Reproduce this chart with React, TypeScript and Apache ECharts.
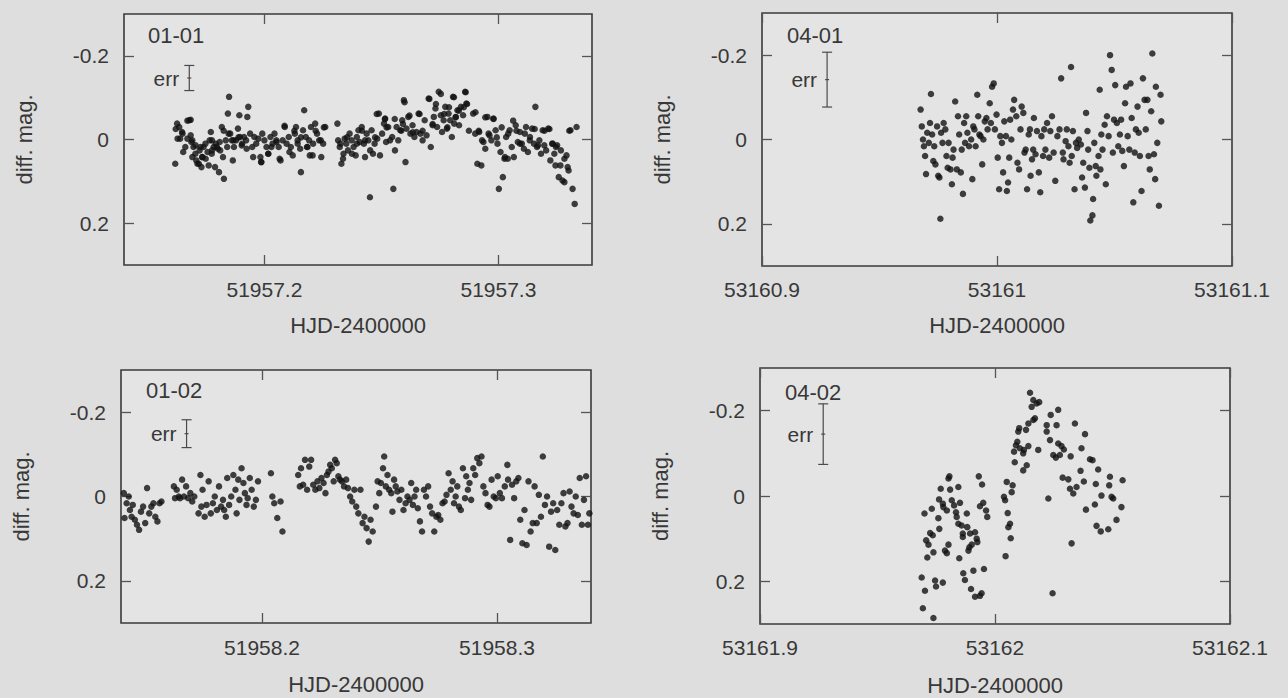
import React, { useEffect, useRef } from "react";
import * as echarts from "echarts";

const FONT = '"Liberation Sans", Arial, Helvetica, sans-serif';
const TEXT = "#383838";

// Epochs (HJD-2400000) — x values below are days relative to these
const BASE_0101 = 51957;
const BASE_0102 = 51958;
const BASE_0401 = 53161;
const BASE_0402 = 53162;

const X_TICKS_0101 = [0.2, 0.3];
const X_TICKS_0102 = [0.2, 0.3];
const X_TICKS_0401 = [-0.1, 0, 0.1];
const X_TICKS_0402 = [-0.1, 0, 0.1];
const Y_TICKS = [-0.2, 0, 0.2];

// error bar: [x, centre mag, half-length]
const ERR_0101 = [0.1679, -0.147, 0.03];
const ERR_0102 = [0.1679, -0.149, 0.033];
const ERR_0401 = [-0.0723, -0.142, 0.065];
const ERR_0402 = [-0.0731, -0.145, 0.071];

const LC_0101: number[][] = [
  [0.1619,0.058],[0.1627,-0.038],[0.1636,-0.030],[0.1640,-0.002],[0.1648,-0.018],[0.1653,0.030],[0.1662,0.018],[0.1671,-0.002],[0.1679,-0.046],[0.1685,-0.010],
  [0.1688,0.006],[0.1692,0.042],[0.1697,0.018],[0.1705,0.034],[0.1709,0.050],[0.1714,0.058],[0.1723,0.026],[0.1731,0.066],[0.1735,0.042],[0.1740,0.018],
  [0.1749,0.046],[0.1757,0.030],[0.1766,0.002],[0.1771,-0.018],[0.1775,0.034],[0.1783,0.018],[0.1789,0.066],[0.1792,0.010],[0.1801,0.022],[0.1806,0.078],
  [0.1809,0.006],[0.1818,-0.030],[0.1823,0.042],[0.1827,0.094],[0.1835,0.002],[0.1841,0.018],[0.1844,-0.062],[0.1849,-0.102],[0.1854,-0.014],[0.1861,0.002],
  [0.1865,0.050],[0.1870,0.018],[0.1879,0.002],[0.1887,-0.026],[0.1893,-0.058],[0.1896,-0.006],[0.1905,0.010],[0.1913,-0.006],[0.1922,0.002],[0.1927,-0.054],
  [0.1931,-0.078],[0.1939,-0.014],[0.1948,0.018],[0.1957,-0.006],[0.1965,0.010],[0.1974,-0.002],[0.1983,0.042],[0.1986,0.054],[0.1991,-0.014],[0.2000,0.002],
  [0.2009,0.018],[0.2017,0.034],[0.2026,-0.006],[0.2035,0.010],[0.2043,-0.014],[0.2052,0.006],[0.2061,0.018],[0.2069,0.050],[0.2078,0.002],[0.2087,-0.030],
  [0.2095,0.010],[0.2104,-0.006],[0.2113,0.018],[0.2121,0.038],[0.2130,-0.014],[0.2135,-0.030],[0.2142,0.002],[0.2153,0.022],[0.2156,0.078],[0.2165,-0.022],
  [0.2170,-0.070],[0.2177,-0.006],[0.2182,0.018],[0.2191,0.002],[0.2194,0.038],[0.2199,-0.030],[0.2208,0.010],[0.2217,-0.038],[0.2225,-0.014],[0.2234,0.002],
  [0.2243,0.042],[0.2251,0.010],[0.2260,-0.030],[0.2312,-0.038],[0.2315,0.002],[0.2322,0.018],[0.2329,0.058],[0.2338,0.034],[0.2343,-0.002],[0.2350,0.010],
  [0.2357,0.026],[0.2364,-0.014],[0.2373,0.002],[0.2381,0.018],[0.2390,0.038],[0.2395,-0.006],[0.2402,-0.022],[0.2407,0.006],[0.2416,-0.030],[0.2425,0.010],
  [0.2430,0.042],[0.2437,-0.014],[0.2444,0.002],[0.2451,0.138],[0.2458,-0.022],[0.2464,0.034],[0.2471,0.010],[0.2482,-0.002],[0.2489,-0.062],[0.2494,0.038],
  [0.2503,-0.014],[0.2511,-0.038],[0.2516,-0.050],[0.2520,0.006],[0.2529,-0.030],[0.2537,0.002],[0.2546,-0.006],[0.2551,0.118],[0.2558,0.026],[0.2565,-0.030],
  [0.2572,0.002],[0.2581,-0.022],[0.2589,-0.046],[0.2596,-0.094],[0.2603,0.054],[0.2607,-0.026],[0.2615,-0.054],[0.2624,-0.014],[0.2633,-0.034],[0.2641,-0.006],
  [0.2650,-0.018],[0.2659,-0.062],[0.2667,-0.014],[0.2676,0.002],[0.2685,-0.046],[0.2693,-0.010],[0.2702,-0.098],[0.2711,0.018],[0.2719,-0.034],[0.2724,-0.054],
  [0.2731,-0.074],[0.2738,-0.030],[0.2745,-0.114],[0.2754,-0.058],[0.2759,-0.018],[0.2766,-0.046],[0.2773,-0.078],[0.2780,-0.026],[0.2787,-0.062],[0.2794,-0.046],
  [0.2801,-0.006],[0.2806,-0.102],[0.2811,-0.038],[0.2818,-0.054],[0.2825,-0.070],[0.2832,-0.034],[0.2840,-0.078],[0.2849,-0.058],[0.2858,-0.114],[0.2863,-0.086],
  [0.2892,-0.062],[0.2901,-0.014],[0.2910,0.058],[0.2918,-0.018],[0.2927,0.062],[0.2936,0.006],[0.2944,0.022],[0.2953,-0.054],[0.2962,-0.010],[0.2970,0.002],
  [0.2979,-0.050],[0.2988,-0.022],[0.2996,0.010],[0.3002,0.118],[0.3009,0.030],[0.3019,0.090],[0.3026,0.046],[0.3033,-0.006],[0.3040,0.046],[0.3048,-0.022],
  [0.3057,0.018],[0.3066,0.042],[0.3074,-0.034],[0.3083,0.006],[0.3092,-0.018],[0.3100,0.010],[0.3109,0.022],[0.3118,-0.030],[0.3126,0.030],[0.3135,-0.006],
  [0.3144,-0.026],[0.3152,0.010],[0.3158,-0.078],[0.3165,0.018],[0.3175,0.002],[0.3182,0.034],[0.3189,-0.022],[0.3196,0.014],[0.3204,0.026],[0.3213,-0.026],
  [0.3222,0.050],[0.3230,0.010],[0.3239,0.034],[0.3244,0.062],[0.3251,0.014],[0.3258,0.090],[0.3265,0.062],[0.3274,0.098],[0.3282,0.102],[0.3291,0.038],
  [0.3300,0.074],[0.3308,-0.022],[0.3317,0.118],[0.3326,0.154],[0.3334,-0.030],
  [0.1621,-0.025],[0.1671,-0.045],[0.1685,-0.047],[0.1629,-0.002],[0.1650,-0.014],[0.1692,0.002],[0.1706,0.014],[0.1727,0.018],[0.1748,0.010],[0.1776,0.002],
  [0.1797,0.018],[0.1734,0.042],[0.1720,0.058],[0.1762,0.062],[0.1776,0.026],[0.1811,0.026],[0.1826,-0.021],[0.1847,-0.014],[0.1868,0.002],[0.1889,-0.005],
  [0.1903,0.014],[0.1924,0.022],[0.1952,0.042],[0.1987,0.054],[0.2016,0.034],[0.2030,0.018],[0.2051,0.002],[0.2065,0.046],[0.2086,-0.033],[0.2107,0.030],
  [0.2128,-0.021],[0.2142,0.010],[0.2156,-0.005],[0.2184,0.018],[0.2206,0.038],[0.2219,-0.021],[0.2241,0.002],[0.2254,-0.029],[0.2325,0.010],[0.2336,0.046],
  [0.2353,-0.005],[0.2374,0.034],[0.2395,0.010],[0.2417,-0.021],[0.2430,0.002],[0.2452,0.026],[0.2473,-0.005],
  [0.2480,-0.061],[0.2515,-0.049],[0.2522,-0.029],[0.2557,-0.049],[0.2592,-0.037],[0.2599,-0.089],[0.2585,-0.021],[0.2620,-0.057],[0.2634,-0.017],[0.2663,-0.061],
  [0.2676,-0.021],[0.2705,-0.097],[0.2719,-0.037],[0.2733,-0.085],[0.2754,-0.109],[0.2768,-0.061],[0.2782,-0.029],[0.2789,-0.077],[0.2810,-0.101],[0.2817,-0.053],
  [0.2831,-0.069],[0.2852,-0.077],[0.2860,-0.113],[0.2866,-0.085],[0.2874,-0.021],[0.2902,-0.065],[0.2916,-0.021],[0.2930,0.002],[0.2944,-0.053],[0.2958,-0.014],
  [0.2979,-0.049],[0.2993,-0.005],[0.3014,-0.029],[0.3028,0.042],[0.3042,-0.014],[0.3063,-0.045],[0.3077,-0.021],[0.3092,0.010],[0.3113,-0.014],[0.3134,0.002],
  [0.3155,-0.025],[0.3169,0.014],[0.3197,-0.021],[0.3218,-0.025],[0.3232,0.010],[0.3246,0.018],[0.3267,0.026],[0.3282,0.046],[0.3296,0.066],[0.3303,-0.021],
];

const LC_0401: number[][] = [
  [-0.0325,-0.071],[-0.0320,-0.031],[-0.0315,0.000],[-0.0311,0.016],[-0.0306,0.039],[-0.0302,0.082],[-0.0297,-0.016],[-0.0290,0.008],[-0.0285,-0.039],[-0.0281,-0.108],
  [-0.0276,-0.012],[-0.0271,0.051],[-0.0267,0.016],[-0.0262,0.059],[-0.0255,-0.031],[-0.0250,0.086],[-0.0245,0.090],[-0.0241,0.188],[-0.0238,-0.016],[-0.0232,0.008],
  [-0.0227,-0.039],[-0.0220,-0.024],[-0.0215,0.039],[-0.0210,0.067],[-0.0206,0.008],[-0.0198,0.071],[-0.0192,0.106],[-0.0189,0.043],[-0.0185,0.024],[-0.0178,-0.090],
  [-0.0171,0.071],[-0.0166,-0.055],[-0.0161,-0.012],[-0.0154,0.078],[-0.0150,0.024],[-0.0145,0.129],[-0.0140,-0.039],[-0.0136,0.008],[-0.0131,-0.055],[-0.0126,-0.016],
  [-0.0119,0.016],[-0.0110,0.000],[-0.0105,0.094],[-0.0101,-0.031],[-0.0096,-0.024],[-0.0091,0.016],[-0.0084,-0.106],[-0.0080,-0.055],[-0.0075,-0.012],[-0.0070,-0.008],
  [-0.0063,0.059],[-0.0058,0.000],[-0.0052,-0.043],[-0.0045,-0.051],[-0.0040,-0.024],[-0.0031,-0.086],[-0.0026,-0.039],[-0.0021,-0.125],[-0.0014,-0.133],[-0.0009,-0.024],
  [-0.0002,-0.059],[0.0003,0.043],[0.0009,0.118],[0.0014,-0.008],[0.0021,0.008],[0.0026,0.078],[0.0031,-0.043],[0.0038,-0.008],[0.0042,0.122],[0.0047,0.102],
  [0.0052,0.043],[0.0056,-0.047],[0.0061,0.000],[0.0068,-0.071],[0.0073,-0.094],[0.0082,-0.055],[0.0087,0.055],[0.0094,0.071],[0.0100,-0.024],[0.0105,-0.078],
  [0.0112,-0.063],[0.0117,0.031],[0.0122,0.024],[0.0128,0.118],[0.0135,-0.012],[0.0140,-0.024],[0.0143,0.086],[0.0149,0.047],[0.0154,0.024],[0.0157,-0.051],
  [0.0164,0.035],[0.0170,-0.020],[0.0178,0.078],[0.0184,0.125],[0.0189,-0.008],[0.0196,0.039],[0.0201,-0.024],[0.0206,0.024],[0.0213,-0.039],[0.0222,0.043],
  [0.0227,-0.020],[0.0234,-0.055],[0.0241,0.031],[0.0248,0.098],[0.0257,-0.008],[0.0266,-0.024],[0.0273,-0.145],[0.0280,0.031],[0.0283,0.047],[0.0292,0.004],
  [0.0297,-0.024],[0.0304,0.016],[0.0309,0.055],[0.0315,-0.172],[0.0318,0.039],[0.0323,-0.020],[0.0330,0.118],[0.0336,0.008],[0.0341,0.020],[0.0348,0.000],
  [0.0357,0.012],[0.0362,0.090],[0.0367,0.055],[0.0374,0.114],[0.0379,-0.063],[0.0385,-0.020],[0.0388,0.024],[0.0393,0.067],[0.0397,0.192],[0.0406,0.180],
  [0.0409,0.141],[0.0414,0.008],[0.0420,0.063],[0.0423,0.086],[0.0432,0.039],[0.0437,-0.118],[0.0440,0.071],[0.0444,-0.012],[0.0449,0.024],[0.0458,-0.035],
  [0.0463,0.106],[0.0468,-0.055],[0.0475,-0.008],[0.0481,-0.200],[0.0488,-0.165],[0.0493,0.031],[0.0498,-0.047],[0.0503,-0.129],[0.0510,-0.039],[0.0516,0.016],
  [0.0523,-0.012],[0.0528,-0.047],[0.0533,0.027],[0.0540,0.063],[0.0545,-0.086],[0.0549,-0.125],[0.0556,-0.008],[0.0563,0.024],[0.0568,-0.133],[0.0573,-0.051],
  [0.0580,0.149],[0.0586,0.031],[0.0591,-0.024],[0.0598,-0.078],[0.0603,-0.016],[0.0608,0.039],[0.0615,0.122],[0.0621,-0.145],[0.0628,-0.094],[0.0633,-0.024],
  [0.0640,-0.094],[0.0645,0.039],[0.0650,0.071],[0.0656,-0.067],[0.0661,-0.204],[0.0668,0.035],[0.0673,0.094],[0.0676,-0.125],[0.0682,0.008],[0.0689,0.157],
  [0.0696,-0.106],[0.0699,-0.043],
];

const LC_0102: number[][] = [
  [0.1412,-0.008],[0.1415,0.051],[0.1424,0.016],[0.1433,0.000],[0.1438,0.032],[0.1445,0.048],[0.1450,0.020],[0.1459,0.055],[0.1468,0.067],[0.1477,0.079],
  [0.1485,0.036],[0.1494,0.024],[0.1503,0.063],[0.1511,-0.020],[0.1520,0.040],[0.1529,0.024],[0.1538,0.016],[0.1546,0.048],[0.1555,0.059],[0.1564,0.016],
  [0.1572,0.012],[0.1625,-0.024],[0.1630,0.004],[0.1637,-0.016],[0.1646,0.000],[0.1651,0.004],[0.1660,-0.040],[0.1668,0.000],[0.1677,-0.024],[0.1686,0.004],
  [0.1695,-0.008],[0.1703,0.012],[0.1712,0.000],[0.1730,0.040],[0.1738,-0.051],[0.1742,0.024],[0.1747,-0.016],[0.1756,0.048],[0.1764,0.020],[0.1773,-0.036],
  [0.1782,0.040],[0.1791,0.016],[0.1799,0.000],[0.1808,0.032],[0.1817,-0.024],[0.1826,0.024],[0.1834,0.008],[0.1839,0.032],[0.1846,0.048],[0.1852,-0.044],
  [0.1860,0.020],[0.1869,0.000],[0.1878,-0.051],[0.1887,-0.016],[0.1892,0.040],[0.1899,-0.040],[0.1904,0.008],[0.1913,-0.067],[0.1921,-0.032],[0.1927,-0.008],
  [0.1934,0.020],[0.1939,0.004],[0.1948,-0.044],[0.1956,-0.016],[0.1965,0.024],[0.1974,0.008],[0.1983,-0.036],[0.2038,-0.055],[0.2044,0.000],[0.2052,0.016],
  [0.2065,0.051],[0.2079,0.012],[0.2087,0.083],[0.2154,-0.051],[0.2161,-0.024],[0.2166,-0.067],[0.2175,-0.028],[0.2183,-0.087],[0.2192,-0.016],[0.2201,-0.071],
  [0.2209,-0.087],[0.2218,-0.028],[0.2227,-0.016],[0.2236,-0.036],[0.2244,-0.020],[0.2253,-0.044],[0.2262,-0.032],[0.2270,-0.008],[0.2276,-0.051],[0.2283,-0.059],
  [0.2290,-0.075],[0.2297,-0.067],[0.2305,-0.036],[0.2311,-0.087],[0.2318,-0.079],[0.2325,-0.048],[0.2332,-0.040],[0.2340,-0.036],[0.2349,-0.024],[0.2358,-0.040],
  [0.2366,-0.020],[0.2375,0.000],[0.2384,0.012],[0.2393,-0.016],[0.2401,0.024],[0.2410,0.040],[0.2419,-0.016],[0.2428,0.063],[0.2436,0.048],[0.2445,0.075],
  [0.2454,0.107],[0.2462,0.055],[0.2471,0.083],[0.2485,0.024],[0.2492,-0.036],[0.2499,-0.008],[0.2506,-0.032],[0.2515,-0.067],[0.2520,-0.095],[0.2527,-0.024],
  [0.2534,-0.051],[0.2541,-0.016],[0.2550,-0.008],[0.2555,0.036],[0.2562,-0.040],[0.2569,-0.024],[0.2576,-0.012],[0.2585,0.008],[0.2593,-0.016],[0.2602,0.032],
  [0.2611,0.016],[0.2619,0.000],[0.2628,0.008],[0.2635,-0.032],[0.2642,0.020],[0.2649,0.000],[0.2656,-0.016],[0.2663,0.028],[0.2672,0.059],[0.2681,0.083],
  [0.2689,-0.016],[0.2698,0.000],[0.2707,-0.024],[0.2715,0.024],[0.2724,0.040],[0.2733,0.083],[0.2742,0.048],[0.2750,0.044],[0.2759,0.055],[0.2768,0.016],
  [0.2777,0.012],[0.2785,-0.004],[0.2794,-0.055],[0.2803,-0.016],[0.2811,-0.036],[0.2817,0.016],[0.2824,0.000],[0.2831,-0.024],[0.2838,0.024],[0.2846,0.032],
  [0.2855,-0.067],[0.2864,0.004],[0.2869,-0.048],[0.2876,-0.016],[0.2883,-0.032],[0.2890,0.008],[0.2899,-0.067],[0.2907,-0.051],[0.2916,-0.091],[0.2925,-0.079],
  [0.2934,-0.095],[0.2942,-0.024],[0.2951,-0.008],[0.2960,0.020],[0.2968,0.024],[0.2977,-0.040],[0.2986,0.000],[0.2995,0.004],[0.3003,-0.048],[0.3012,-0.008],
  [0.3021,0.004],[0.3033,-0.024],[0.3044,-0.075],[0.3047,-0.040],[0.3056,0.103],[0.3064,-0.028],[0.3073,0.004],[0.3082,-0.036],[0.3091,-0.044],[0.3099,0.055],
  [0.3108,0.111],[0.3117,0.032],[0.3126,0.115],[0.3134,-0.036],[0.3143,0.083],[0.3152,0.063],[0.3160,-0.024],[0.3169,0.063],[0.3178,-0.004],[0.3187,0.048],
  [0.3195,-0.095],[0.3204,0.020],[0.3213,0.000],[0.3222,0.119],[0.3230,0.036],[0.3239,0.016],[0.3248,0.127],[0.3256,0.032],[0.3265,0.067],[0.3274,0.016],
  [0.3283,-0.008],[0.3291,0.071],[0.3300,0.063],[0.3309,-0.012],[0.3317,0.024],[0.3326,0.040],[0.3335,0.000],[0.3344,0.044],[0.3352,-0.044],[0.3361,0.067],
  [0.3370,0.008],[0.3379,-0.048],[0.3387,0.067],[0.3393,0.040],
];

const LC_0402: number[][] = [
  [0.0149,-0.242],[0.0163,-0.225],[0.0177,-0.217],[0.0188,-0.220],[0.0156,-0.209],[0.0170,-0.182],[0.0163,-0.178],[0.0237,-0.190],[0.0269,-0.202],[0.0103,-0.159],
  [0.0099,-0.151],[0.0132,-0.155],[0.0142,-0.170],[0.0220,-0.166],[0.0220,-0.151],[0.0262,-0.166],[0.0095,-0.127],[0.0089,-0.119],[0.0106,-0.112],[0.0123,-0.108],
  [0.0142,-0.117],[0.0081,-0.104],[0.0120,-0.100],[0.0184,-0.108],[0.0234,-0.131],[0.0248,-0.096],[0.0259,-0.090],[0.0084,-0.079],[0.0135,-0.072],[0.0120,-0.060],
  [-0.0194,-0.046],[-0.0198,-0.041],[-0.0069,-0.046],[-0.0055,-0.027],[-0.0231,-0.017],[-0.0191,-0.015],[-0.0156,-0.021],[0.0050,-0.033],[0.0075,-0.025],[0.0071,-0.009],
  [0.0038,0.002],[0.0043,0.010],[0.0227,0.006],[-0.0238,0.008],[-0.0222,0.018],[-0.0184,0.010],[-0.0174,0.022],[-0.0149,0.016],[-0.0050,0.016],[-0.0064,0.024],
  [-0.0038,0.034],[-0.0269,0.030],[-0.0300,0.041],[-0.0220,0.026],[-0.0205,0.034],[-0.0241,0.052],[-0.0166,0.038],[-0.0163,0.049],[-0.0120,0.041],[-0.0033,0.049],
  [0.0054,0.040],[-0.0156,0.065],[-0.0142,0.069],[-0.0118,0.073],[0.0064,0.065],[0.0057,0.073],[-0.0276,0.087],[-0.0265,0.092],[-0.0237,0.077],[-0.0137,0.088],
  [-0.0106,0.088],[-0.0085,0.085],[-0.0293,0.104],[-0.0283,0.114],[-0.0198,0.114],[-0.0137,0.096],[-0.0109,0.120],[-0.0075,0.108],[-0.0078,0.100],[-0.0099,0.114],
  [-0.0262,0.132],[-0.0213,0.128],[-0.0205,0.134],[-0.0288,0.144],[-0.0152,0.146],[-0.0113,0.128],[0.0045,0.141],[0.0067,0.099],[-0.0312,0.191],[-0.0298,0.222],
  [-0.0255,0.198],[-0.0251,0.212],[-0.0222,0.203],[-0.0135,0.181],[-0.0092,0.175],[-0.0047,0.171],[-0.0128,0.197],[-0.0102,0.218],[-0.0085,0.236],[-0.0064,0.234],
  [-0.0057,0.228],[0.0245,0.228],[-0.0307,0.263],[-0.0262,0.286],
  [0.0340,-0.170],[0.0383,-0.145],[0.0269,-0.123],[0.0283,-0.117],[0.0293,-0.109],[0.0276,-0.096],[0.0322,-0.093],[0.0368,-0.112],[0.0404,-0.086],[0.0415,-0.084],
  [0.0364,-0.059],[0.0439,-0.062],[0.0288,-0.043],[0.0312,-0.039],[0.0378,-0.034],[0.0489,-0.045],[0.0543,-0.037],[0.0319,-0.017],[0.0333,-0.006],[0.0347,-0.021],
  [0.0429,-0.028],[0.0486,-0.025],[0.0453,-0.001],[0.0503,0.006],[0.0496,0.002],[0.0387,0.032],[0.0425,0.020],[0.0538,0.026],[0.0517,0.056],[0.0432,0.070],
  [0.0450,0.083],[0.0482,0.078],[0.0326,0.111],
];

type Panel = {
  name: string;
  base: number;
  data: number[][];
  xMin: number;
  xMax: number;
  xTicks: number[];
  err: number[];
  grid: { left: number; top: number; width: number; height: number };
  labelTop: number;
  labelLeft: number;
  xLabelMargin: number;
  xNameGap: number;
};

const PANELS: Panel[] = [
  { name: "01-01", base: BASE_0101, data: LC_0101, xMin: 0.14, xMax: 0.34, xTicks: X_TICKS_0101, err: ERR_0101,
    grid: { left: 124, top: 14, width: 468, height: 251 }, labelTop: 24, labelLeft: 148, xLabelMargin: 14, xNameGap: 49 },
  { name: "04-01", base: BASE_0401, data: LC_0401, xMin: -0.1, xMax: 0.1, xTicks: X_TICKS_0401, err: ERR_0401,
    grid: { left: 762, top: 13, width: 470, height: 253 }, labelTop: 24, labelLeft: 787, xLabelMargin: 13, xNameGap: 48 },
  { name: "01-02", base: BASE_0102, data: LC_0102, xMin: 0.14, xMax: 0.34, xTicks: X_TICKS_0102, err: ERR_0102,
    grid: { left: 121, top: 370, width: 470, height: 253 }, labelTop: 379, labelLeft: 146, xLabelMargin: 14, xNameGap: 50 },
  { name: "04-02", base: BASE_0402, data: LC_0402, xMin: -0.1, xMax: 0.1, xTicks: X_TICKS_0402, err: ERR_0402,
    grid: { left: 760, top: 368, width: 470, height: 256 }, labelTop: 381, labelLeft: 785, xLabelMargin: 13, xNameGap: 50 },
];

const fmtX = (v: number) => String(Math.round(v * 10) / 10);
const fmtY = (v: number) => (Math.abs(v) < 1e-9 ? "0" : String(Math.round(v * 10) / 10));

function buildOption() {
  const grid: any[] = [];
  const xAxis: any[] = [];
  const yAxis: any[] = [];
  const series: any[] = [];
  const title: any[] = [];

  PANELS.forEach((p, i) => {
    grid.push({
      ...p.grid,
      show: true,
      backgroundColor: "#e4e4e4",
      borderColor: "#3a3a3a",
      borderWidth: 1.6,
      outerBoundsMode: "none",
      containLabel: false,
    });
    const ticksAbs = p.xTicks.map((t) => p.base + t);
    const tickStyle = { show: true, inside: true, length: 10, lineStyle: { color: "#555", width: 1.3 } };
    const noLine = { show: false, onZero: false };
    xAxis.push({
      type: "value",
      gridIndex: i,
      position: "bottom",
      min: p.base + p.xMin,
      max: p.base + p.xMax,
      axisLine: noLine,
      splitLine: { show: false },
      axisTick: { ...tickStyle, customValues: ticksAbs },
      axisLabel: {
        customValues: ticksAbs,
        formatter: fmtX,
        margin: p.xLabelMargin,
        fontSize: 21,
        fontFamily: FONT,
        color: TEXT,
        showMinLabel: true,
        showMaxLabel: true,
        hideOverlap: false,
      },
      name: "HJD-2400000",
      nameLocation: "middle",
      nameGap: p.xNameGap,
      nameTextStyle: { fontSize: 22, fontFamily: FONT, color: TEXT },
    });
    xAxis.push({
      type: "value",
      gridIndex: i,
      position: "top",
      min: p.base + p.xMin,
      max: p.base + p.xMax,
      axisLine: noLine,
      splitLine: { show: false },
      axisTick: { ...tickStyle, customValues: ticksAbs },
      axisLabel: { show: false },
    });
    yAxis.push({
      type: "value",
      gridIndex: i,
      position: "left",
      inverse: true,
      min: -0.3,
      max: 0.3,
      axisLine: noLine,
      splitLine: { show: false },
      axisTick: { ...tickStyle, customValues: Y_TICKS },
      axisLabel: {
        customValues: Y_TICKS,
        formatter: fmtY,
        margin: 15,
        fontSize: 21,
        fontFamily: FONT,
        color: TEXT,
      },
      name: "diff. mag.",
      nameLocation: "middle",
      nameGap: 89,
      nameTextStyle: { fontSize: 22, fontFamily: FONT, color: TEXT },
    });
    yAxis.push({
      type: "value",
      gridIndex: i,
      position: "right",
      inverse: true,
      min: -0.3,
      max: 0.3,
      axisLine: noLine,
      splitLine: { show: false },
      axisTick: { ...tickStyle, customValues: Y_TICKS },
      axisLabel: { show: false },
    });

    series.push({
      type: "scatter",
      xAxisIndex: i * 2,
      yAxisIndex: i * 2,
      symbol: "circle",
      symbolSize: 6.5,
      itemStyle: { color: "#111111" },
      data: p.data.map((d) => [p.base + d[0], d[1]]),
      silent: true,
    });

    series.push({
      type: "custom",
      xAxisIndex: i * 2,
      yAxisIndex: i * 2,
      data: [[p.base + p.err[0], p.err[1], p.err[2]]],
      encode: { x: 0, y: 1 },
      silent: true,
      clip: false,
      renderItem: (params: any, api: any) => {
        const x = api.value(0);
        const y = api.value(1);
        const e = api.value(2);
        const a = api.coord([x, y - e]);
        const b = api.coord([x, y + e]);
        const c = api.coord([x, y]);
        const st = { stroke: "#4a4a4a", lineWidth: 1.2 };
        const cap = 5;
        return {
          type: "group",
          children: [
            { type: "line", shape: { x1: a[0], y1: a[1], x2: b[0], y2: b[1] }, style: st },
            { type: "line", shape: { x1: a[0] - cap, y1: a[1], x2: a[0] + cap, y2: a[1] }, style: st },
            { type: "line", shape: { x1: b[0] - cap, y1: b[1], x2: b[0] + cap, y2: b[1] }, style: st },
            { type: "line", shape: { x1: c[0] - 2, y1: c[1], x2: c[0] + 2, y2: c[1] }, style: st },
            {
              type: "text",
              x: c[0] - 10,
              y: c[1],
              style: {
                text: "err",
                align: "right",
                verticalAlign: "middle",
                fontSize: 21,
                fontFamily: FONT,
                fill: TEXT,
              },
            },
          ],
        };
      },
    });

    title.push({
      text: p.name,
      left: p.labelLeft,
      top: p.labelTop,
      padding: 0,
      textStyle: { fontSize: 22, fontWeight: "normal", fontFamily: FONT, color: TEXT },
    });
  });

  return {
    animation: false,
    backgroundColor: "#dedede",
    title,
    grid,
    xAxis,
    yAxis,
    series,
  };
}

export default function App() {
  const ref = useRef<HTMLDivElement>(null);
  useEffect(() => {
    if (!ref.current) return;
    const chart = echarts.init(ref.current, undefined, { renderer: "svg" });
    chart.setOption(buildOption() as any);
    return () => chart.dispose();
  }, []);
  return (
    <div
      ref={ref}
      style={{ position: "fixed", left: 0, top: 0, width: 1288, height: 698 }}
    />
  );
}
